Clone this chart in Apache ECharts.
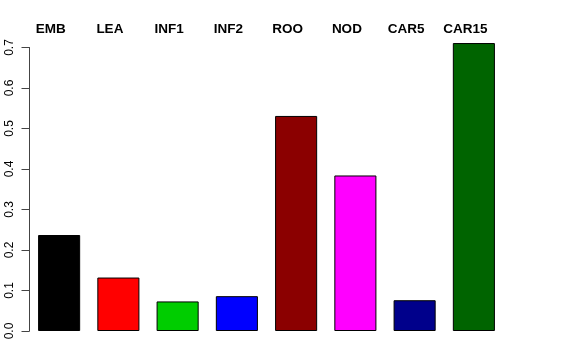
<!DOCTYPE html>
<html><head><meta charset="utf-8">
<script src="https://cdn.jsdelivr.net/npm/echarts@6/dist/echarts.min.js"></script>
<style>html,body{margin:0;padding:0;background:#fff}#c{width:576px;height:360px}</style>
</head><body><div id="c"></div>
<script>
const categories = ["EMB","LEA","INF1","INF2","ROO","NOD","CAR5","CAR15"];
const values = [0.237, 0.132, 0.073, 0.086, 0.531, 0.384, 0.076, 0.711];
const colors = ["#000000","#FF0000","#00CD00","#0000FF","#8B0000","#FF00FF","#00008B","#006400"];
const yTicks = [0, 0.1, 0.2, 0.3, 0.4, 0.5, 0.6, 0.7];

const chart = echarts.init(document.getElementById('c'), null, {renderer:'canvas'});
chart.setOption({
  animation:false,
  backgroundColor:'#fff',
  grid:{left:29.5, top:47.5, width:474, height:283.5, containLabel:false},
  xAxis:{
    type:'category', data:categories, position:'top',
    axisLine:{show:false}, axisTick:{show:false},
    axisLabel:{fontFamily:'Liberation Sans, Arial, sans-serif', fontWeight:'bold', fontSize:13.5, color:'#000', margin:11,
      padding:[0,17,0,0]}
  },
  yAxis:{
    type:'value', min:yTicks[0], max:yTicks[yTicks.length-1], interval:0.1,
    splitLine:{show:false},
    axisLine:{show:true, lineStyle:{color:'#444', width:1}},
    axisTick:{show:true, length:8, lineStyle:{color:'#444'}},
    axisLabel:{rotate:90, fontFamily:'Liberation Sans, Arial, sans-serif', fontSize:12, color:'#000', margin:14,
      formatter: v => v.toFixed(1)}
  },
  series:[{
    type:'bar',
    clip:false,
    data: values.map((v,i)=>({value:v, itemStyle:{color:colors[i]}})),
    barCategoryGap:'29%',
    itemStyle:{borderColor:'#000', borderWidth:1}
  }]
});
</script></body></html>
